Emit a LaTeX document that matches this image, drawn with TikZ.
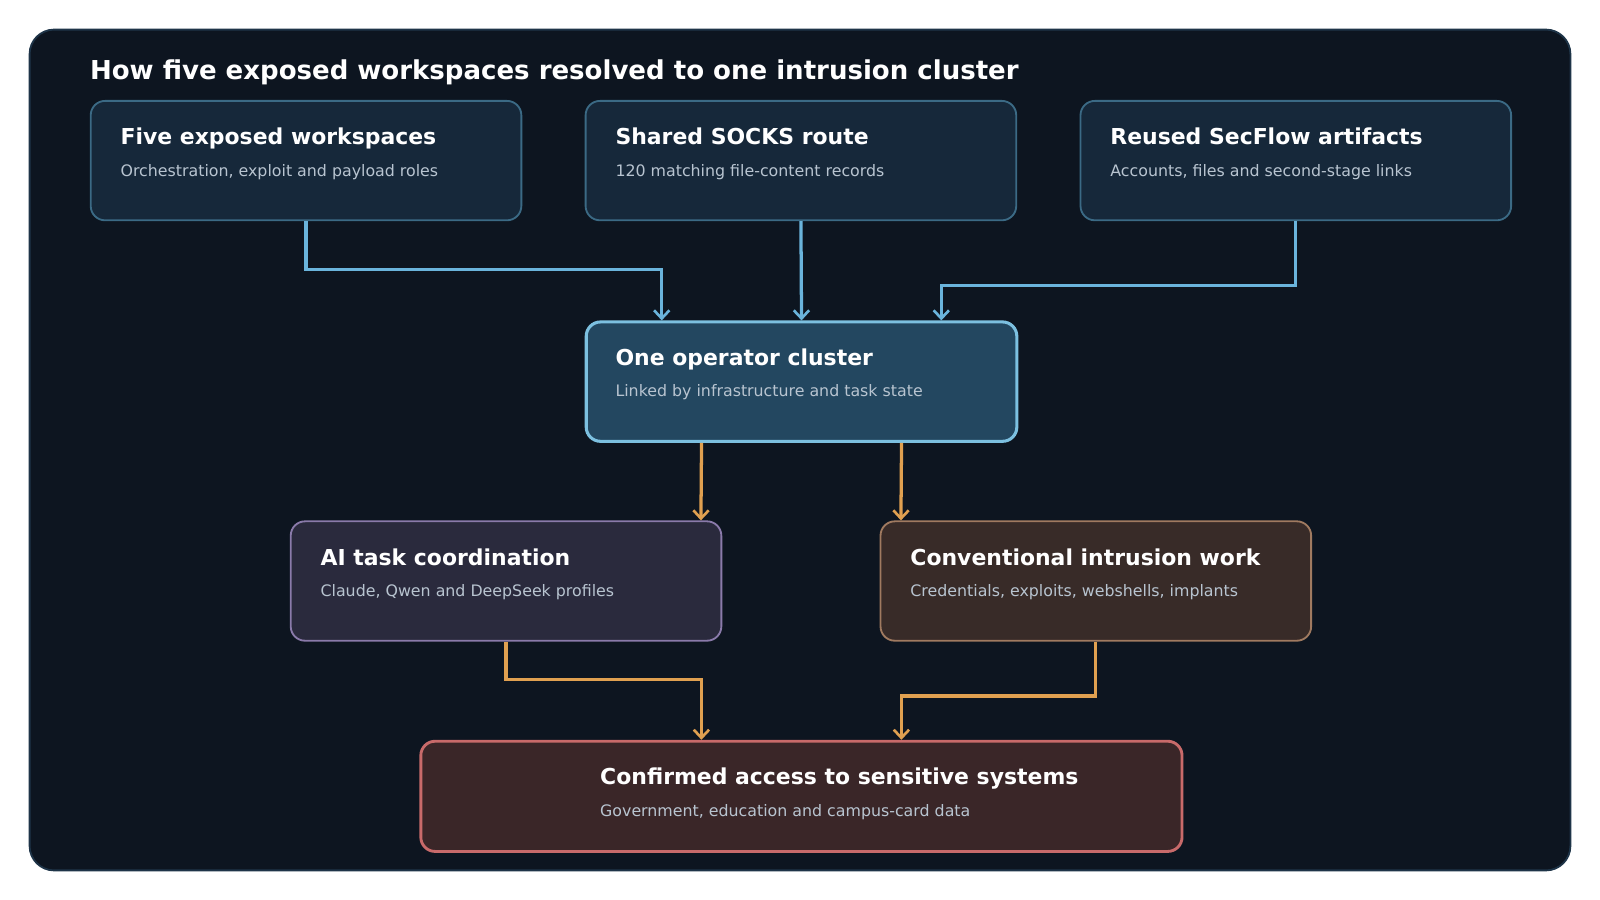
\documentclass[tikz,border=0pt]{standalone}
\usepackage{fontspec}
\setmainfont{DejaVu Sans}
\usetikzlibrary{arrows.meta,calc}
\definecolor{bg}{HTML}{0D1520}
\definecolor{bgline}{HTML}{1E3448}
\definecolor{topfill}{HTML}{16283A}
\definecolor{topline}{HTML}{3B6A85}
\definecolor{midfill}{HTML}{234760}
\definecolor{midline}{HTML}{7CC0E0}
\definecolor{aifill}{HTML}{2A2A3D}
\definecolor{ailine}{HTML}{8A7AAA}
\definecolor{cvfill}{HTML}{382B28}
\definecolor{cvline}{HTML}{A07A60}
\definecolor{okfill}{HTML}{3A2628}
\definecolor{okline}{HTML}{C86A6A}
\definecolor{blueln}{HTML}{6AB4DC}
\definecolor{orangeln}{HTML}{E0A050}
\definecolor{subtxt}{HTML}{B8C4D0}
\tikzset{
 box/.style={draw, line width=1.8pt, rounded corners=14pt, minimum width=422pt, minimum height=117pt, anchor=north west, inner sep=0pt},
 ttl/.style={anchor=base west, text=white, font=\fontsize{21.5}{24}\selectfont\bfseries, inner sep=0pt},
 sub/.style={anchor=base west, text=subtxt, font=\fontsize{15.5}{18}\selectfont, inner sep=0pt},
 conn/.style={line width=3.2pt, -{Straight Barb[length=8pt,width=15pt,line width=2.6pt]}},
}
\begin{document}
\begin{tikzpicture}[x=1pt,y=-1pt]
\useasboundingbox (0,0) rectangle (1568,882);
\fill[white] (0,0) rectangle (1568,882);
\draw[fill=bg, draw=bgline, line width=1.8pt, rounded corners=24pt] (29,29) rectangle (1539,853);
\node[anchor=base west, text=white, font=\fontsize{25.5}{28}\selectfont\bfseries, inner sep=0pt] (title) at (88,78) {How five exposed workspaces resolved to one intrusion cluster};

\node[box, fill=topfill, draw=topline] (A) at (88,98) {};
\node[ttl] (At) at (118,142) {Five exposed workspaces};
\node[sub] (As) at (118,173) {Orchestration, exploit and payload roles};
\node[box, fill=topfill, draw=topline] (B) at (573,98) {};
\node[ttl] (Bt) at (603,142) {Shared SOCKS route};
\node[sub] (Bs) at (603,173) {120 matching file-content records};
\node[box, fill=topfill, draw=topline] (C) at (1058,98) {};
\node[ttl] (Ct) at (1088,142) {Reused SecFlow artifacts};
\node[sub] (Cs) at (1088,173) {Accounts, files and second-stage links};

\node[box, fill=midfill, draw=midline, line width=3pt] (D) at (573,314) {};
\node[ttl] (Dt) at (603,358) {One operator cluster};
\node[sub] (Ds) at (603,389) {Linked by infrastructure and task state};

\node[box, fill=aifill, draw=ailine] (E) at (284,510) {};
\node[ttl] (Et) at (314,554) {AI task coordination};
\node[sub] (Es) at (314,585) {Claude, Qwen and DeepSeek profiles};
\node[box, fill=cvfill, draw=cvline] (F) at (862,510) {};
\node[ttl] (Ft) at (892,554) {Conventional intrusion work};
\node[sub] (Fs) at (892,585) {Credentials, exploits, webshells, implants};

\node[box, fill=okfill, draw=okline, line width=2.8pt, minimum width=746pt, minimum height=108pt] (G) at (411,725) {};
\node[ttl] (Gt) at (588,769) {Confirmed access to sensitive systems};
\node[sub] (Gs) at (588,800) {Government, education and campus-card data};

\draw[conn, blueln] (A.south) |- ($(D.north)+(-137,-50)$) -- ($(D.north)+(-137,0)$);
\draw[conn, blueln] (B.south) -- (D.north);
\draw[conn, blueln] (C.south) |- ($(D.north)+(137,-34)$) -- ($(D.north)+(137,0)$);
\draw[conn, orangeln] ($(D.south)+(-98,0)$) -- ($(E.north)+(191,0)$);
\draw[conn, orangeln] ($(D.south)+(98,0)$) -- ($(F.north)+(-191,0)$);
\draw[conn, orangeln] (E.south) |- ($(G.north)+(-98,-59)$) -- ($(G.north)+(-98,0)$);
\draw[conn, orangeln] (F.south) |- ($(G.north)+(98,-43)$) -- ($(G.north)+(98,0)$);
\end{tikzpicture}
\end{document}
